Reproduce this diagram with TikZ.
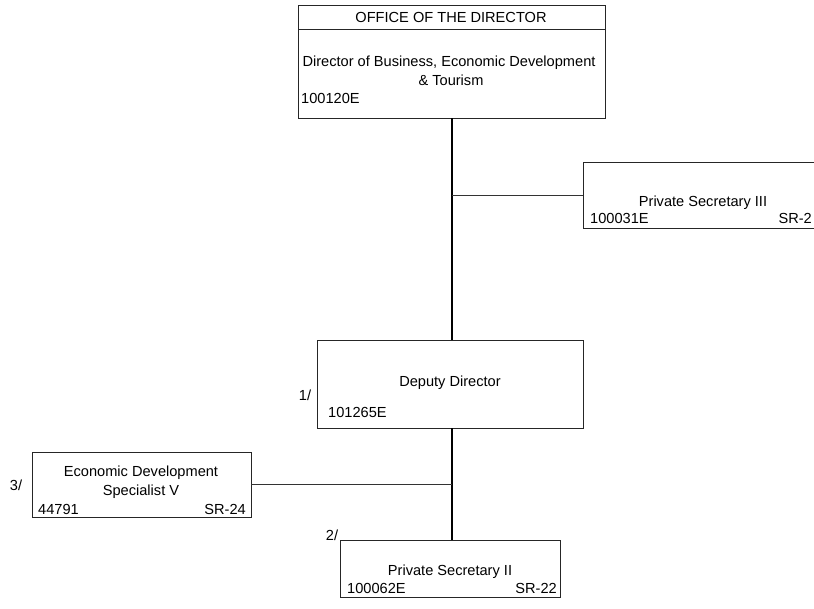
\documentclass[tikz,border=0pt]{standalone}
\usepackage{fontspec}
\setmainfont{Liberation Sans}
\begin{document}
\begin{tikzpicture}[x=1pt,y=-1pt,
  box/.style={draw=black!85, line width=0.8pt, inner sep=0pt, outer sep=0pt},
  txt/.style={inner sep=0pt, font=\fontsize{14.6}{17}\selectfont},
  link/.style={draw=black, line width=1.1pt},
  branch/.style={draw=black!80, line width=0.8pt}]
  \clip (0,0) rectangle (814,608);
  \fill[white] (0,0) rectangle (814,608);

  % office of the director
  \node[box, minimum width=307, minimum height=113] (dir) at (451.5,61.5) {};
  \coordinate (hl) at (298,29);
  \coordinate (hr) at (605,29);
  \draw[box] (hl) -- (hr);
  \node[txt] (dirhead)  at (451,17) {OFFICE OF THE DIRECTOR};
  \node[txt] (dirname)  at (449,63) {Director of Business, Economic Development};
  \node[txt] (dirname2) at (451,80) {\& Tourism};
  \node[txt, anchor=west] (dirid) at (301,98) {100120E};

  % private secretary III
  \node[box, minimum width=240, minimum height=66, anchor=west] (psthree) at (583,195) {};
  \node[txt] (psthreename) at (703,203) {Private Secretary III};
  \node[txt, anchor=west] (psthreeid) at (590,218) {100031E};
  \node[txt, anchor=east] (psthreesr) at (812,218) {SR-2};

  % deputy director
  \node[box, minimum width=266, minimum height=88] (dep) at (450,384) {};
  \node[txt] (depname) at (450,383) {Deputy Director};
  \node[txt, anchor=west] (depid) at (328,412) {101265E};
  \node[txt] (depnote) at (305,395) {1/};

  % economic development specialist
  \node[box, minimum width=219, minimum height=65] (eds) at (141.5,484.5) {};
  \node[txt] (edsname)  at (141,473) {Economic Development};
  \node[txt] (edsname2) at (141,492) {Specialist V};
  \node[txt, anchor=west] (edsid) at (38,509) {44791};
  \node[txt, anchor=east] (edssr) at (246,509) {SR-24};
  \node[txt] (edsnote) at (16,485) {3/};

  % private secretary II
  \node[box, minimum width=220, minimum height=57] (pstwo) at (450,568.5) {};
  \node[txt] (pstwoname) at (450,572) {Private Secretary II};
  \node[txt, anchor=west] (pstwoid) at (347,588) {100062E};
  \node[txt, anchor=east] (pstwosr) at (557,588) {SR-22};
  \node[txt] (pstwonote) at (332,535) {2/};

  % reporting lines
  \coordinate (spine) at (452,0);
  \draw[link] (spine |- dir.south) -- (spine |- dep.north);
  \draw[branch] (psthree.west) -- (psthree.west -| spine);
  \draw[link] (spine |- dep.south) -- (spine |- pstwo.north);
  \draw[branch] (eds.east) -- (eds.east -| spine);
\end{tikzpicture}
\end{document}
